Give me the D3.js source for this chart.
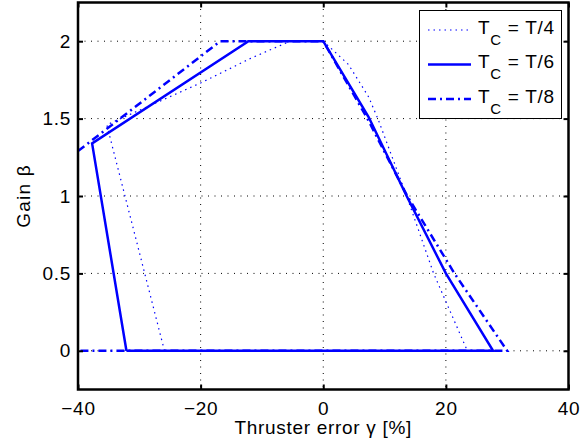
<!DOCTYPE html>
<html>
<head>
<meta charset="utf-8">
<script src="https://cdn.jsdelivr.net/npm/d3@7"></script>
<style>
  body { margin: 0; background: #fff; }
  svg { display: block; }
</style>
</head>
<body>
<script>
// thruster error gamma [%] and gain beta, one closed loop per switching time
const t4Gamma = [-25.9, -35.3, -20, -11.8, -5.4, 0, 4.1, 7.4, 9.0, 13.6, 18.0, 23.5, -25.9];
const t4Beta  = [0, 1.46, 1.73, 1.89, 2, 2, 1.85, 1.64, 1.49, 1.0, 0.5, 0, 0];
const t6Gamma = [-32.1, -37.7, -12.2, 0, 7.4, 13.6, 20.0, 27.7, -32.1];
const t6Beta  = [0, 1.34, 2, 2, 1.51, 1.0, 0.5, 0, 0];
const t8Gamma = [-40, -16.8, 0, 7.2, 13.7, 21.4, 30.0, -40];
const t8Beta  = [1.29, 2, 2, 1.5, 1.0, 0.5, 0, 0];

const seriesNames = ["T/4", "T/6", "T/8"];
const xTicks = [-40, -20, 0, 20, 40];
const yTicks = [0, 0.5, 1, 1.5, 2];

const width = 582, height = 446;
const margin = {left: 78, right: 13.5, top: 2.5, bottom: 56.5};

const svg = d3.select("body").append("svg")
    .attr("width", width)
    .attr("height", height)
    .attr("font-family", "'Liberation Sans', Arial, sans-serif")
    .attr("font-size", 19)
    .attr("letter-spacing", 0.7);

const x = d3.scaleLinear().domain([-40, 40]).range([margin.left, width - margin.right]);
const y = d3.scaleLinear().domain([-0.25, 2.25]).range([height - margin.bottom, margin.top]);

svg.append("clipPath").attr("id", "clip")
  .append("rect")
    .attr("x", x(-40)).attr("y", y(2.25))
    .attr("width", x(40) - x(-40)).attr("height", y(-0.25) - y(2.25));

// grid
const grid = svg.append("g")
    .attr("stroke", "#000")
    .attr("stroke-width", 1)
    .attr("stroke-dasharray", "1,5.5");
grid.selectAll(".gx")
  .data(xTicks.slice(1, -1))
  .enter().append("line")
    .attr("x1", d => x(d)).attr("x2", d => x(d))
    .attr("y1", y(2.25)).attr("y2", y(-0.25));
grid.selectAll(".gy")
  .data(yTicks)
  .enter().append("line")
    .attr("y1", d => y(d)).attr("y2", d => y(d))
    .attr("x1", x(-40)).attr("x2", x(40));

const line = d3.line().x(d => x(d[0])).y(d => y(d[1]));
const zip = (g, b) => g.map((v, i) => [v, b[i]]);

const series = [
  {name: seriesNames[0], pts: zip(t4Gamma, t4Beta), w: 1.2, dash: "1.5,4"},
  {name: seriesNames[1], pts: zip(t6Gamma, t6Beta), w: 2.5, dash: null},
  {name: seriesNames[2], pts: zip(t8Gamma, t8Beta), w: 2.5, dash: "8,4,2,4"}
];

svg.append("g")
    .attr("clip-path", "url(#clip)")
  .selectAll("path")
  .data(series)
  .enter().append("path")
    .attr("fill", "none")
    .attr("stroke", "#0000ff")
    .attr("stroke-width", d => d.w)
    .attr("stroke-dasharray", d => d.dash)
    .attr("d", d => line(d.pts));

// axes box with inward ticks
const axes = svg.append("g");
axes.append("g")
    .attr("transform", `translate(0,${y(-0.25)})`)
    .call(d3.axisBottom(x).tickValues(xTicks).tickSizeInner(-5).tickSizeOuter(0)
      .tickPadding(12).tickFormat(d => d < 0 ? "\u2212" + Math.abs(d) : d));
axes.append("g")
    .attr("transform", `translate(0,${y(2.25)})`)
    .call(d3.axisTop(x).tickValues(xTicks).tickSizeInner(-5).tickSizeOuter(0).tickFormat(""));
axes.append("g")
    .attr("transform", `translate(${x(-40)},0)`)
    .call(d3.axisLeft(y).tickValues(yTicks).tickSizeInner(-5).tickSizeOuter(0)
      .tickPadding(7).tickFormat(d3.format("")));
axes.append("g")
    .attr("transform", `translate(${x(40)},0)`)
    .call(d3.axisRight(y).tickValues(yTicks).tickSizeInner(-5).tickSizeOuter(0).tickFormat(""));
axes.selectAll(".domain").remove();
axes.selectAll(".tick line").attr("stroke", "#000").attr("stroke-width", 2);
axes.selectAll(".tick text").attr("fill", "#000").attr("font-size", 19)
    .attr("font-family", "'Liberation Sans', Arial, sans-serif");

svg.append("rect")
    .attr("x", x(-40)).attr("y", y(2.25))
    .attr("width", x(40) - x(-40)).attr("height", y(-0.25) - y(2.25))
    .attr("fill", "none")
    .attr("stroke", "#000")
    .attr("stroke-width", 2.5);

// axis titles
svg.append("text")
    .attr("x", (x(-40) + x(40)) / 2)
    .attr("y", 434)
    .attr("text-anchor", "middle")
    .text("Thruster error \u03b3 [%]");
svg.append("text")
    .attr("transform", `translate(30,${y(1)}) rotate(-90)`)
    .attr("text-anchor", "middle")
    .attr("letter-spacing", 1.2)
    .text("Gain \u03b2");

// legend
const legend = svg.append("g");
legend.append("rect")
    .attr("x", 419.5).attr("y", 10.5)
    .attr("width", 142).attr("height", 108)
    .attr("fill", "#fff")
    .attr("stroke", "#000")
    .attr("stroke-width", 1);
const item = legend.selectAll(".item")
  .data(series)
  .enter().append("g")
    .attr("transform", (d, i) => `translate(0,${30 + i * 34.5})`);
item.append("line")
    .attr("x1", 428).attr("x2", 471)
    .attr("stroke", "#0000ff")
    .attr("stroke-width", d => d.w)
    .attr("stroke-dasharray", d => d.dash);
const label = item.append("text")
    .attr("x", 478)
    .attr("y", 3.5);
label.append("tspan").text("T");
label.append("tspan").attr("font-size", 15).attr("dy", 11).text("C");
label.append("tspan").attr("dy", -11).text(d => " = " + d.name);
</script>
</body>
</html>
